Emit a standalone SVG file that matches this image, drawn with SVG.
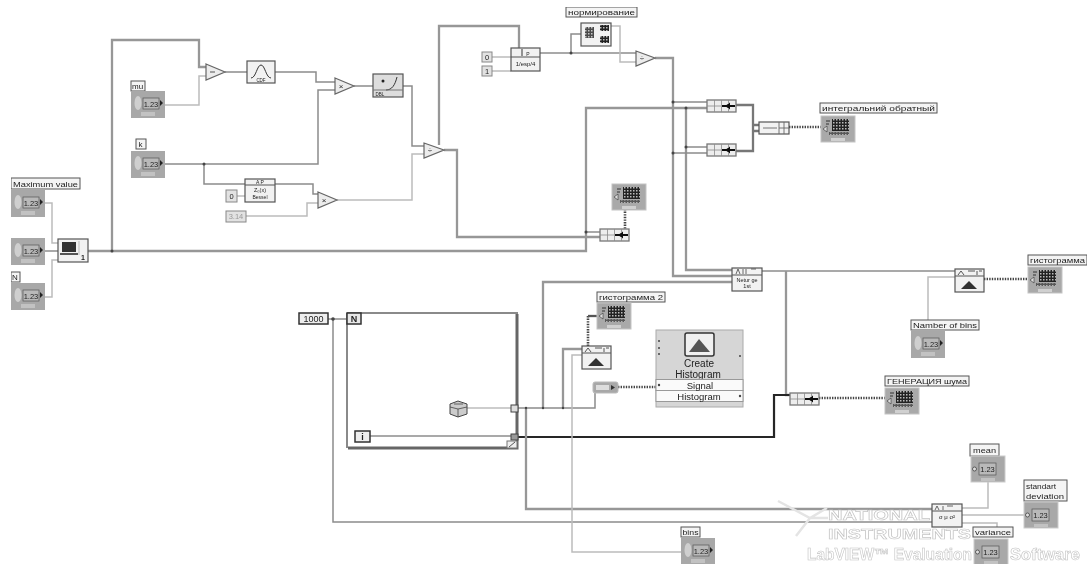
<svg xmlns="http://www.w3.org/2000/svg" xmlns:xlink="http://www.w3.org/1999/xlink" width="1088" height="564" viewBox="0 0 1088 564">
<style>
text{font-family:"Liberation Sans","Noto Sans",sans-serif;fill:#222}
.lb{font-size:8px}
.lbr{fill:#f4f4f4;stroke:#555;stroke-width:1}
.w{fill:none;stroke:#8c8c8c;stroke-width:1.5}
.t{fill:none;stroke:#979797;stroke-width:2.3}
.l{fill:none;stroke:#bcbcbc;stroke-width:1.5}
.k{fill:none;stroke:#262626;stroke-width:2.2}
.d{fill:none;stroke:#444;stroke-width:2.6;stroke-dasharray:1.4 1.2}
.n{fill:#f2f2f2;stroke:#555;stroke-width:1.2}
.tri{fill:#ececec;stroke:#666;stroke-width:1.2}
.c{fill:#e2e2e2;stroke:#888;stroke-width:1}
.num{font-size:7.5px;text-anchor:middle}
.wm{font-weight:bold;fill:#fff;stroke:#c4c4c4;stroke-width:.6}
</style>
<defs>
<filter id="soft" x="0" y="0" width="100%" height="100%"><feGaussianBlur stdDeviation="0.5"/></filter>
<pattern id="dith" width="3" height="3" patternUnits="userSpaceOnUse"><rect width="3" height="3" fill="#222"/><rect width="1.5" height="1.5" fill="#bbb"/></pattern>
<g id="ctlIn"><rect width="34" height="27" fill="#a8a8a8"/><ellipse cx="7" cy="12" rx="3.5" ry="7" fill="#cfcfcf"/><rect x="12" y="7" width="16" height="11" fill="#b9b9b9" stroke="#555" stroke-width=".7"/><path d="M29 9l3 3-3 3z" fill="#222"/><rect x="10" y="21" width="14" height="4" fill="#c2c2c2"/></g>
<g id="ctlOut"><rect width="34" height="26" fill="#a8a8a8" stroke="#ccc"/><circle cx="3.5" cy="13" r="2" fill="#ddd" stroke="#333" stroke-width=".7"/><rect x="8" y="7" width="17" height="12" fill="#b9b9b9" stroke="#555" stroke-width=".7"/><rect x="10" y="22" width="14" height="3" fill="#c2c2c2"/></g>
<g id="graph"><rect width="34" height="26" fill="#a9a9a9" stroke="#c4c4c4"/><rect x="11" y="3" width="17" height="12" fill="url(#dith)"/><rect x="8" y="16" width="20" height="3" fill="url(#dith)" opacity=".6"/><path d="M6 10l-4 3 4 3z" fill="#ddd" stroke="#333" stroke-width=".6"/><path d="M5 5h4M5 8h3" stroke="#333" fill="none"/><rect x="10" y="22" width="14" height="3" fill="#d0d0d0"/></g>
<g id="hist"><rect width="29" height="23" class="n"/><path d="M0 7h29" stroke="#555"/><path d="M3 6l3-4 3 4M13 2h7M22 2v4M24 2h3" fill="none" stroke="#444" stroke-width=".9"/><path d="M6 20l8-8 8 8z" fill="#333"/></g>
<g id="bundle"><rect width="29" height="12" fill="#ededed" stroke="#777" stroke-width="1.300"/><path d="M7.500 0v12M14.500 0v12M21.500 0v3M21.500 9v3M0 6h14" stroke="#8a8a8a" stroke-width=".8"/><path d="M15 6h13" stroke="#111" stroke-width="2"/><path d="M23 2.500l-5 3.500 5 3.500z" fill="#111"/></g>
</defs>
<rect width="1088" height="564" fill="#fff"/>
<g filter="url(#soft)">
<g id="connectors">
<path class="t" d="M88 251H586V108H707"/>
<path class="t" d="M112 251V40H199V67H206"/>
<path class="l" d="M45 203H52V243H58M45 297H52V260H58"/>
<path class="w" d="M45 251H58"/>
<path class="l" d="M165 105H199V76H206"/>
<path class="w" d="M225 72H247M275 72H316V82H335"/>
<path class="w" d="M165 164H318V90H335"/>
<path class="w" d="M204 164V184H245M275 184H313V194H318"/>
<path class="l" d="M237 196H245M246 216H307V203H318"/>
<path class="l" d="M337 200H412V154H424"/>
<path class="w" d="M354 86H373M403 86H412V146H424"/>
<path class="t" d="M444 150H457V237H600"/>
<path class="t" d="M439 145V26H519V48"/>
<path class="l" d="M492 57H511M492 71H511"/>
<path class="w" d="M540 53H636"/>
<path class="w" d="M571 53V34H581"/>
<path class="l" d="M611 26H620V62H636"/>
<path class="t" d="M655 58H673V276H732"/>
<path class="t" d="M686 108V270H732"/>
<path class="w" d="M673 102H707M673 153H707M686 147H707"/>
<path class="w" d="M586 232H600"/>
<path class="d" d="M625 209V229"/>
<path class="t" d="M736 105H753V151H736M753 125H759M753 131H759" style="stroke:#777"/>
<path class="d" d="M789 127H822"/>
<path class="w" d="M762 271H955"/>
<path class="t" d="M786 271V395H790"/>
<path class="k" d="M518 437H774V395H790"/>
<path class="d" d="M819 398H885"/>
<path class="d" d="M984 279H1028"/>
<path class="l" d="M928 320V277H955"/>
<path class="w" d="M328 319H347"/>
<path class="w" d="M333 319V522H932"/>
<path class="w" d="M370 436H511"/>
<path class="l" d="M467 408H511"/>
<path class="w" d="M518 408H595V393"/>
<path class="d" d="M618 387H656"/>
<path class="t" d="M543 408V282H732"/>
<path class="t" d="M563 408V349H582"/>
<path class="t" d="M526 408V509H932"/>
<path class="d" d="M588 346V316"/>
<path class="t" d="M588 316H597" style="stroke:#555"/>
<path class="l" d="M582 355H572V552H681"/>
<path class="l" d="M962 508H988V482M962 515H1024M962 523H997V527"/>
<g fill="#444"><circle cx="112" cy="251" r="1.500"/><circle cx="204" cy="164" r="1.500"/><circle cx="571" cy="53" r="1.500"/><circle cx="673" cy="102" r="1.500"/><circle cx="673" cy="153" r="1.500"/><circle cx="686" cy="108" r="1.500"/><circle cx="686" cy="147" r="1.500"/><circle cx="333" cy="319" r="1.800"/><circle cx="586" cy="232" r="1.500"/><circle cx="543" cy="408" r="1.200"/><circle cx="563" cy="408" r="1.200"/><circle cx="526" cy="408" r="1.200"/></g>
</g>
<g id="loop">
<path d="M347 313H518M347 313V448" fill="none" stroke="#8a8a8a" stroke-width="2"/>
<path d="M517 314V448H348" fill="none" stroke="#666" stroke-width="3"/>
</g>
<g id="n-loop-n"><rect x="347" y="313" width="14" height="11" fill="#e8e8e8" stroke="#333" stroke-width="1.500"/><text x="354" y="322" font-size="9" font-weight="bold" text-anchor="middle">N</text></g>
<g id="n-1000"><rect x="299" y="313" width="29" height="11" fill="#eee" stroke="#333" stroke-width="1.500"/><text x="313.500" y="322" font-size="9" text-anchor="middle">1000</text></g>
<g id="n-loop-i"><rect x="355" y="431" width="15" height="11" fill="#eee" stroke="#333" stroke-width="1.500"/><text x="362.500" y="440" font-size="9" font-weight="bold" text-anchor="middle">i</text></g>
<g id="n-tunnels"><rect x="511" y="405" width="7" height="7" fill="#ddd" stroke="#444"/><rect x="511" y="434" width="7" height="6" fill="#999" stroke="#444"/><rect x="507" y="441" width="10" height="7" fill="#eee" stroke="#777"/><path d="M509 447l6-5" stroke="#555"/></g>
<g id="n-dice"><path d="M450 404l8-3 9 3v10l-9 3-8-3z" fill="#ccc" stroke="#444"/><path d="M450 407l8 2 9-2M458 409v8M454 404h9" fill="none" stroke="#444" stroke-width=".8"/></g>

<g id="n-max"><rect class="lbr" x="11" y="178" width="69" height="11"/><text class="lb" x="13" y="186.500" textLength="65" lengthAdjust="spacingAndGlyphs">Maximum value</text><use href="#ctlIn" x="11" y="190"/><text class="num" x="31" y="205.500">1.23</text></g>
<g id="n-c2"><use href="#ctlIn" x="11" y="238"/><text class="num" x="31" y="253.500">1.23</text></g>
<g id="n-N"><rect class="lbr" x="11" y="272" width="9" height="10"/><text class="lb" x="12" y="280">N</text><use href="#ctlIn" x="11" y="283"/><text class="num" x="31" y="298.500">1.23</text></g>
<g id="n-build"><rect x="58" y="239" width="30" height="23" class="n"/><rect x="62" y="242" width="14" height="10" fill="#333"/><path d="M60 254h18" stroke="#555" stroke-width="2"/><path d="M79 241v14" stroke="#bbb"/><text x="83" y="260" font-size="7" font-weight="bold" text-anchor="middle">1</text></g>
<g id="n-mu"><rect class="lbr" x="131" y="81" width="14" height="10"/><text class="lb" x="132" y="89">mu</text><use href="#ctlIn" x="131" y="91"/><text class="num" x="151" y="106.500">1.23</text></g>
<g id="n-k"><rect class="lbr" x="136" y="139" width="10" height="10"/><text class="lb" x="138.500" y="147">k</text><use href="#ctlIn" x="131" y="151"/><text class="num" x="151" y="166.500">1.23</text></g>
<g id="n-sub"><path class="tri" d="M206 64l19 8-19 8z"/><path d="M210 72h5" stroke="#555"/></g>
<g id="n-gauss"><rect x="247" y="61" width="28" height="22" class="n"/><path d="M251 78c5 0 6-13 10-13s5 13 10 13" fill="none" stroke="#333"/><text x="261" y="82" font-size="4.500" text-anchor="middle">CDF</text></g>
<g id="n-mul1"><path class="tri" d="M335 78l19 8-19 8z"/><text x="341" y="89" font-size="8" text-anchor="middle">×</text></g>
<g id="n-bessel"><rect x="245" y="179" width="30" height="23" class="n"/><path d="M245 185h30" stroke="#555"/><text x="260" y="184" font-size="5" text-anchor="middle">A P</text><text x="260" y="192" font-size="5.500" text-anchor="middle">Z₀(x)</text><text x="260" y="199" font-size="5" text-anchor="middle">Bessel</text></g>
<g id="n-c0"><rect class="c" x="226" y="190" width="11" height="12"/><text class="num" x="231.500" y="199">0</text></g>
<g id="n-cdots"><rect class="c" x="226" y="211" width="20" height="11"/><text class="num" x="236" y="219" style="fill:#999">3.14</text></g>
<g id="n-mul2"><path class="tri" d="M318 192l19 8-19 8z"/><text x="324" y="203" font-size="8" text-anchor="middle">×</text></g>
<g id="n-pow"><rect x="373" y="74" width="30" height="23" fill="#ddd" stroke="#555" stroke-width="1.200"/><circle cx="383" cy="81" r="1.500" fill="#222"/><path d="M386 90c6 0 9-5 11-13" fill="none" stroke="#333"/><path d="M373 90h30" stroke="#777"/><text x="380" y="96" font-size="4.500" text-anchor="middle">DBL</text></g>
<g id="n-add"><path class="tri" d="M424 143l20 7-20 8z"/><text x="430" y="153" font-size="8" text-anchor="middle">÷</text></g>
<g id="n-c0b"><rect class="c" x="482" y="52" width="10" height="10"/><text class="num" x="487" y="60">0</text></g>
<g id="n-c1"><rect class="c" x="482" y="66" width="10" height="10"/><text class="num" x="487" y="74">1</text></g>
<g id="n-range"><rect x="511" y="48" width="29" height="23" class="n"/><path d="M511 57h29" stroke="#555"/><path d="M522 49v7" stroke="#333"/><text x="528" y="56" font-size="5" text-anchor="middle">P</text><text x="525.500" y="66" font-size="6" text-anchor="middle">1/esp/4</text></g>
<g id="n-array"><rect x="581" y="23" width="30" height="23" class="n"/><rect x="585" y="27" width="9" height="11" fill="url(#dith)" opacity=".8"/><rect x="600" y="25" width="9" height="6" fill="url(#dith)"/><rect x="600" y="36" width="9" height="7" fill="url(#dith)"/></g>
<g id="n-norm"><rect class="lbr" x="566" y="7" width="71" height="10"/><text class="lb" x="568" y="15" textLength="67" lengthAdjust="spacingAndGlyphs">нормирование</text></g>
<g id="n-div"><path class="tri" d="M636 51l19 7-19 8z"/><text x="642" y="61" font-size="8" text-anchor="middle">÷</text></g>
<g id="n-g1"><use href="#graph" x="612" y="184"/></g>
<g id="n-b1"><use href="#bundle" x="600" y="229"/></g>
<g id="n-b2"><use href="#bundle" x="707" y="100"/></g>
<g id="n-b3"><use href="#bundle" x="707" y="144"/></g>
<g id="n-merge"><rect x="759" y="122" width="30" height="12" class="n"/><path d="M763 128h14M779 122v12M784 122v12M779 128h10" stroke="#666" stroke-width=".9"/></g>
<g id="n-int"><rect class="lbr" x="820" y="103" width="117" height="10"/><text class="lb" x="822" y="111" textLength="113" lengthAdjust="spacingAndGlyphs">интегральний обратный</text><use href="#graph" x="821" y="116"/></g>
<g id="n-resample"><rect x="732" y="268" width="30" height="23" class="n"/><path d="M732 275h30" stroke="#555"/><path d="M736 274l2-5 2 5M743 269v5M746 269v5M751 269h5" fill="none" stroke="#444" stroke-width=".8"/><text x="747" y="282" font-size="5.500" text-anchor="middle">Netur ge</text><text x="747" y="288" font-size="5.500" text-anchor="middle">1st</text></g>
<g id="n-h1"><use href="#hist" x="955" y="269"/></g>
<g id="n-gist"><rect class="lbr" x="1028" y="255" width="59" height="10"/><text class="lb" x="1030" y="263" textLength="55" lengthAdjust="spacingAndGlyphs">гистограмма</text><use href="#graph" x="1028" y="267"/></g>
<g id="n-nbins"><rect class="lbr" x="911" y="320" width="68" height="10"/><text class="lb" x="913" y="328" textLength="64" lengthAdjust="spacingAndGlyphs">Namber of bins</text><use href="#ctlIn" x="911" y="331"/><text class="num" x="931" y="346.500">1.23</text></g>
<g id="n-gist2"><rect class="lbr" x="597" y="292" width="68" height="10"/><text class="lb" x="599" y="300" textLength="64" lengthAdjust="spacingAndGlyphs">гистограмма 2</text><use href="#graph" x="597" y="303"/></g>
<g id="n-h2"><use href="#hist" x="582" y="346"/></g>
<g id="n-conv"><rect x="593" y="382" width="25" height="11" rx="2" fill="#a8a8a8" stroke="#bbb"/><rect x="596" y="385" width="13" height="5" fill="#ddd"/><path d="M611 385l4 2.500-4 2.500z" fill="#333"/></g>
<g id="n-create">
<rect x="656" y="330" width="87" height="77" fill="#d6d6d6" stroke="#aaa"/>
<rect x="685" y="333" width="29" height="23" rx="2" fill="#f0f0f0" stroke="#333" stroke-width="1.500"/>
<path d="M689 352l10-13 11 13z" fill="#555"/>
<text x="699" y="367" font-size="10" text-anchor="middle">Create</text>
<text x="698" y="378" font-size="10" text-anchor="middle">Histogram</text>
<rect x="656" y="379.500" width="87" height="11" fill="#fafafa" stroke="#999"/>
<rect x="656" y="390.500" width="87" height="11" fill="#fafafa" stroke="#999"/>
<text x="700" y="388.500" font-size="9.500" text-anchor="middle">Signal</text>
<text x="699" y="399.500" font-size="9.500" text-anchor="middle">Histogram</text>
<g fill="#444"><circle cx="659" cy="341" r="1"/><circle cx="659" cy="348" r="1"/><circle cx="659" cy="354" r="1"/><circle cx="740" cy="356" r="1"/><circle cx="659" cy="385" r="1.200"/><circle cx="740" cy="396" r="1.200"/></g>
</g>
<g id="n-b4"><use href="#bundle" x="790" y="393"/></g>
<g id="n-gen"><rect class="lbr" x="885" y="376" width="84" height="10"/><text class="lb" x="887" y="384" textLength="80" lengthAdjust="spacingAndGlyphs">ГЕНЕРАЦИЯ шума</text><use href="#graph" x="885" y="388"/></g>
<g id="n-bins"><rect class="lbr" x="681" y="527" width="19" height="10"/><text class="lb" x="682.500" y="535" textLength="16" lengthAdjust="spacingAndGlyphs">bins</text><use href="#ctlIn" x="681" y="538"/><text class="num" x="701" y="553.500">1.23</text></g>
<g id="watermark">
<path d="M778 501l32 17 17-10M810 518l18 0M810 518l-14 18" fill="none" stroke="#e4e4e4" stroke-width="2.500"/>
<text class="wm" x="828" y="520" font-size="15" textLength="102" lengthAdjust="spacingAndGlyphs">NATIONAL</text>
<text class="wm" x="828" y="539" font-size="15" textLength="143" lengthAdjust="spacingAndGlyphs">INSTRUMENTS</text>
<text class="wm" x="807" y="560" font-size="16" textLength="165" lengthAdjust="spacingAndGlyphs">LabVIEW™ Evaluation</text>
<text class="wm" x="1010" y="560" font-size="16" textLength="70" lengthAdjust="spacingAndGlyphs">Software</text>
</g>
<g id="n-stat"><rect x="932" y="504" width="30" height="23" class="n"/><path d="M932 511h30" stroke="#555"/><path d="M935 510l2-4 2 4M943 506v4M947 506h6" fill="none" stroke="#444" stroke-width=".8"/><text x="947" y="519" font-size="6" text-anchor="middle">σ μ σ²</text></g>
<g id="n-mean"><rect class="lbr" x="970" y="444" width="29" height="12"/><text class="lb" x="973" y="453" textLength="23" lengthAdjust="spacingAndGlyphs">mean</text><use href="#ctlOut" x="971" y="456"/><text class="num" x="987.500" y="472">1.23</text></g>
<g id="n-std"><rect class="lbr" x="1024" y="480" width="43" height="21"/><text class="lb" x="1026" y="489" textLength="30" lengthAdjust="spacingAndGlyphs">standart</text><text class="lb" x="1026" y="499" textLength="38" lengthAdjust="spacingAndGlyphs">deviation</text><use href="#ctlOut" x="1024" y="502"/><text class="num" x="1040.500" y="518">1.23</text></g>
<g id="n-var"><use href="#ctlOut" x="974" y="539"/><text class="num" x="990.500" y="555">1.23</text><rect class="lbr" x="973" y="527" width="40" height="10"/><text class="lb" x="975" y="535" textLength="36" lengthAdjust="spacingAndGlyphs">variance</text></g>
</g>
</svg>
